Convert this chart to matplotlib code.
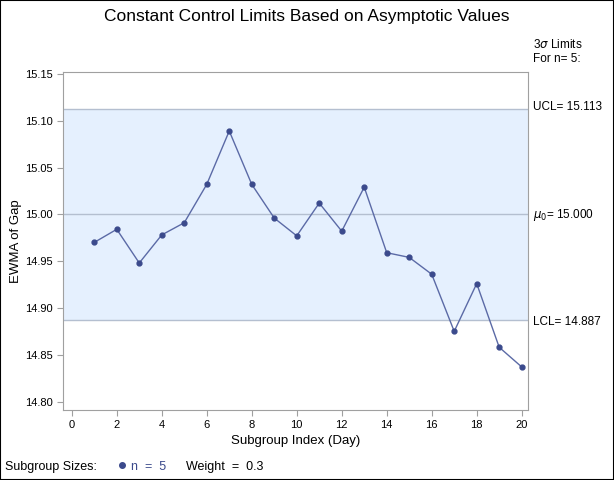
import matplotlib
matplotlib.use('Agg')
import matplotlib.pyplot as plt
from matplotlib.patches import Rectangle

plt.rcParams['font.family'] = ['Liberation Sans', 'DejaVu Sans']

# EWMA values
day = list(range(1, 21))
ewma = [14.970, 14.984, 14.948, 14.978, 14.991, 15.032, 15.089, 15.032, 14.996, 14.977,
        15.012, 14.982, 15.029, 14.959, 14.954, 14.936, 14.875, 14.926, 14.858, 14.837]
ucl, mu0, lcl = 15.113, 15.000, 14.887
xticks = list(range(0, 21, 2))
yticks = [14.80, 14.85, 14.90, 14.95, 15.00, 15.05, 15.10, 15.15]

BAND = '#e5f0fe'; LIMIT = '#b4bfd0'; LINE = '#5b6aa6'; MARK = '#3b4a8c'; SPINE = '#a0a0a0'

fig = plt.figure(figsize=(6.14, 4.8), dpi=100)
ax = fig.add_axes([63/614, 1-410/480, (528-63)/614, (410-72)/480])

ax.axhspan(lcl, ucl, color=BAND, zorder=0, lw=0)
for v in (lcl, mu0, ucl):
    ax.axhline(v, color=LIMIT, lw=1.0, zorder=1)
ax.plot(day, ewma, color=LINE, lw=1.0, zorder=2)
ax.plot(day, ewma, 'o', color=MARK, ms=3.5, zorder=3)

ax.set_xlim(-0.39, 20.28)
ax.set_ylim(14.791, 15.152)
ax.set_xticks(xticks)
ax.set_yticks(yticks)
ax.set_yticklabels([f'{v:.2f}' for v in yticks])
for s in ax.spines.values():
    s.set_color(SPINE)
ax.tick_params(colors='black', labelsize=8, length=4, width=0.8, direction='out')
ax.tick_params(axis='both', color=SPINE)
ax.set_xlabel('Subgroup Index (Day)', fontsize=9.5, labelpad=3)
ax.set_ylabel('EWMA of Gap', fontsize=9.5)
ax.yaxis.set_label_coords(-0.088, 0.5)

fig.text(0.5, 1-17/480, 'Constant Control Limits Based on Asymptotic Values',
         ha='center', va='center', fontsize=12.5)

xr = 533/614
def ylab(v):
    return ax.transData.transform((0, v))[1] / fig.bbox.height
fig.text(xr, 1-45/480, r'3$\sigma$ Limits', fontsize=8.5, va='center')
fig.text(xr, 1-59/480, 'For n= 5:', fontsize=8.5, va='center')
fig.text(xr, ylab(ucl) + 0.004, f'UCL= {ucl:.3f}', fontsize=8.5, va='center')
fig.text(xr, ylab(mu0) - 0.002, r'$\mu_0$= ' + f'{mu0:.3f}', fontsize=8.5, va='center')
fig.text(xr, ylab(lcl) - 0.003, f'LCL= {lcl:.3f}', fontsize=8.5, va='center')

yl = 1-467/480
fig.text(5/614, yl, 'Subgroup Sizes:', fontsize=9, va='center')
fig.lines.append(plt.Line2D([122/614], [yl + 0.004], marker='o', color=MARK, ms=4,
                            transform=fig.transFigure))
fig.text(131/614, yl, 'n  =  5', fontsize=9, va='center', color=MARK)
fig.text(186/614, yl, 'Weight  =  0.3', fontsize=9, va='center')

fig.patches.append(Rectangle((0, 0), 1, 1, transform=fig.transFigure, fill=False,
                             edgecolor='black', lw=1.5))

fig.savefig('out.png', dpi=100)
